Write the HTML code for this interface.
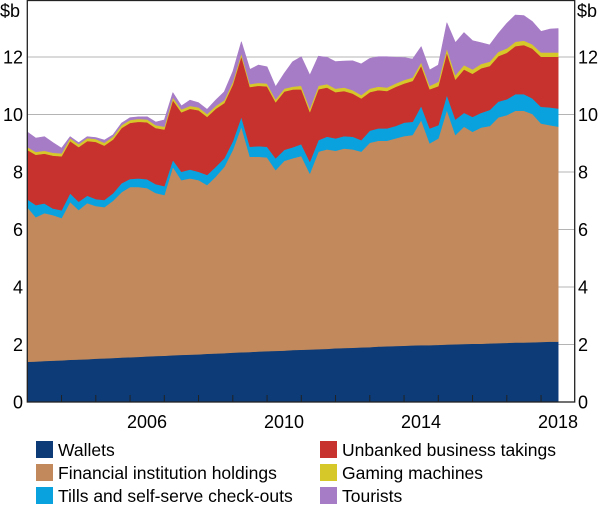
<!DOCTYPE html>
<html><head><meta charset="utf-8">
<style>
html,body{margin:0;padding:0;background:#fff;}
svg{display:block;font-family:"Liberation Sans",Arial,sans-serif;}
</style></head>
<body>
<svg id="chart" width="600" height="506" viewBox="0 0 600 506">
  <g id="grid"></g>
  <g id="areas"></g>
  <g id="axes"></g>
  <g id="legend"></g>
</svg>
<script>
const startYear = 2003;
const wallets = [1.40,1.41,1.43,1.44,1.45,1.47,1.48,1.49,1.51,1.52,1.53,1.55,
1.56,1.57,1.59,1.60,1.61,1.63,1.64,1.65,1.66,1.68,1.69,1.70,1.72,1.73,1.74,1.76,
1.77,1.78,1.79,1.81,1.82,1.83,1.84,1.85,1.87,1.88,1.89,1.90,1.91,1.93,1.94,1.95,
1.96,1.97,1.98,1.98,1.99,2.00,2.01,2.02,2.03,2.03,2.04,2.05,2.06,2.07,2.07,2.08,2.09,2.10,2.10];
const fiHoldings = [5.38,5.02,5.14,5.06,4.95,5.49,5.20,5.43,5.31,5.26,5.47,5.75,5.92,5.91,5.85,5.67,5.59,
6.55,6.08,6.13,6.06,5.87,6.15,6.48,7.05,7.85,6.79,6.77,6.74,6.29,6.60,6.67,6.74,
6.12,6.87,6.94,6.87,6.94,6.90,6.81,7.11,7.16,7.15,7.22,7.29,7.32,7.83,7.02,
7.18,8.16,7.28,7.56,7.37,7.52,7.56,7.85,7.92,8.06,8.06,7.94,7.60,7.53,7.48];
const tills = [0.27,0.42,0.34,0.23,0.27,0.30,0.29,0.26,0.24,0.25,0.26,0.31,0.28,0.30,0.31,0.31,0.31,
0.24,0.29,0.31,0.29,0.35,0.34,0.30,0.30,0.34,0.35,0.37,0.37,0.41,0.38,0.38,0.41,
0.41,0.40,0.44,0.43,0.43,0.44,0.40,0.42,0.43,0.43,0.43,0.47,0.46,0.49,0.52,
0.46,0.52,0.54,0.48,0.52,0.51,0.56,0.55,0.55,0.58,0.58,0.54,0.58,0.62,0.63];
const unbanked = [1.72,1.75,1.73,1.84,1.88,1.82,1.90,1.90,1.99,1.89,1.87,1.92,1.95,1.97,1.98,1.95,1.97,
2.08,2.07,2.11,2.14,2.02,2.02,1.92,1.97,2.11,2.08,2.10,2.10,1.95,2.03,2.01,1.91,
1.73,1.77,1.71,1.61,1.57,1.50,1.45,1.34,1.33,1.30,1.36,1.36,1.42,1.40,1.36,
1.36,1.47,1.39,1.51,1.50,1.55,1.53,1.58,1.62,1.67,1.71,1.73,1.74,1.76,1.80];
const gaming = [0.10,0.10,0.10,0.10,0.10,0.10,0.10,0.10,0.10,0.10,0.10,0.10,0.10,0.10,0.10,0.10,
0.10,0.10,0.10,0.10,0.10,0.10,0.10,0.10,0.10,0.10,0.10,0.10,0.10,0.10,0.10,0.10,
0.12,0.12,0.12,0.12,0.12,0.12,0.12,0.12,0.12,0.12,0.12,0.12,0.12,0.12,0.12,0.12,
0.15,0.15,0.15,0.15,0.15,0.15,0.15,0.15,0.15,0.15,0.15,0.15,0.15,0.15,0.15];
const tourists = [0.52,0.48,0.49,0.35,0.18,0.05,0.05,0.05,0.05,0.09,0.06,0.07,0.08,0.07,0.09,0.11,0.23,
0.16,0.12,0.20,0.16,0.16,0.20,0.29,0.35,0.40,0.51,0.62,0.58,0.44,0.53,0.87,1.01,
1.16,1.03,0.93,0.94,0.92,1.02,1.08,1.05,1.04,1.07,0.91,0.78,0.64,0.54,0.55,
0.58,0.89,1.13,1.13,1.00,0.74,0.58,0.64,0.87,0.93,0.87,0.79,0.73,0.81,0.83];
const yTicks = [0,2,4,6,8,10,12];
const xLabels = [2006,2010,2014,2018];
const tickYears = [2004,2005,2006,2007,2008,2009,2010,2011,2012,2013,2014,2015,2016,2017,2018];
const seriesNames = ["Wallets","Financial institution holdings","Tills and self-serve check-outs","Unbanked business takings","Gaming machines","Tourists"];

const NS = "http://www.w3.org/2000/svg";
const L = 27.3, R = 574.7, B = 402, T = 0.5;
const x = yr => L + (yr - 2003) * 34.25;
const y = v => B - v * 28.75;
function mk(tag, attrs, parent){ const e = document.createElementNS(NS, tag); for (const k in attrs) e.setAttribute(k, attrs[k]); parent.appendChild(e); return e; }

const grid = document.getElementById('grid');
yTicks.forEach(v => { if (v === 0) return;
  const l = mk('line', {x1:L, x2:R, y1:y(v), y2:y(v), stroke:'#b4b4b4', 'stroke-width':1}, grid);
  
  
});

const series = [wallets, fiHoldings, tills, unbanked, gaming, tourists];
const colors = ['#0c3b78','#c28a5c','#0aa2de','#c8322e','#d7c82a','#a77cc6'];
const slugs = ['wallets','financial-institution-holdings','tills-and-checkouts','unbanked-business-takings','gaming-machines','tourists'];
const areas = document.getElementById('areas');
const n = wallets.length;
let base = new Array(n).fill(0);
series.forEach((s, k) => {
  const top = base.map((b, i) => b + s[i]);
  let d = '';
  for (let i = 0; i < n; i++) d += (i ? 'L' : 'M') + x(startYear + i*0.25).toFixed(2) + ',' + y(top[i]).toFixed(2);
  for (let i = n-1; i >= 0; i--) d += 'L' + x(startYear + i*0.25).toFixed(2) + ',' + y(base[i]).toFixed(2);
  d += 'Z';
  const p = mk('path', {d:d, fill:colors[k], stroke:colors[k], 'stroke-width':0.6, 'stroke-linejoin':'round'}, areas);
  
  
  base = top;
});

const axes = document.getElementById('axes');
const frame = mk('rect', {x:L, y:T, width:R-L, height:B-T, fill:'none', stroke:'#222', 'stroke-width':1.3}, axes);


tickYears.forEach(yr => {
  const t = mk('line', {x1:x(yr), x2:x(yr), y1:B, y2:B-7, stroke:'#222', 'stroke-width':1}, axes);
  
  
});
yTicks.forEach(v => {
  const a = mk('text', {x:23, y:y(v)+6.5, 'text-anchor':'end', 'font-size':18, fill:'#000'}, axes);
  a.textContent = v;
  
  
  const b = mk('text', {x:578, y:y(v)+6.5, 'text-anchor':'start', 'font-size':18, fill:'#000'}, axes);
  b.textContent = v;
  
  
});
const u1 = mk('text', {x:0, y:17, 'font-size':18, fill:'#000'}, axes);
u1.textContent = '$b';


const u2 = mk('text', {x:577, y:17, 'font-size':18, fill:'#000'}, axes);
u2.textContent = '$b';


xLabels.forEach(yr => {
  const t = mk('text', {x:x(yr)+17, y:428, 'text-anchor':'middle', 'font-size':18, fill:'#000'}, axes);
  t.textContent = yr;
  
  
});

const legend = document.getElementById('legend');
const lx = [36, 36, 36, 320, 320, 320], ly = [441, 464, 487, 441, 464, 487];
seriesNames.forEach((nm, k) => {
  const g = mk('g', {}, legend);
  
  
  const r = mk('rect', {x:lx[k], y:ly[k], width:17, height:17, fill:colors[k]}, g);
  
  
  const t = mk('text', {x:lx[k]+22, y:ly[k]+15, 'font-size':17.5, fill:'#000'}, g);
  t.textContent = nm;
  
  
});
</script>
</body></html>
